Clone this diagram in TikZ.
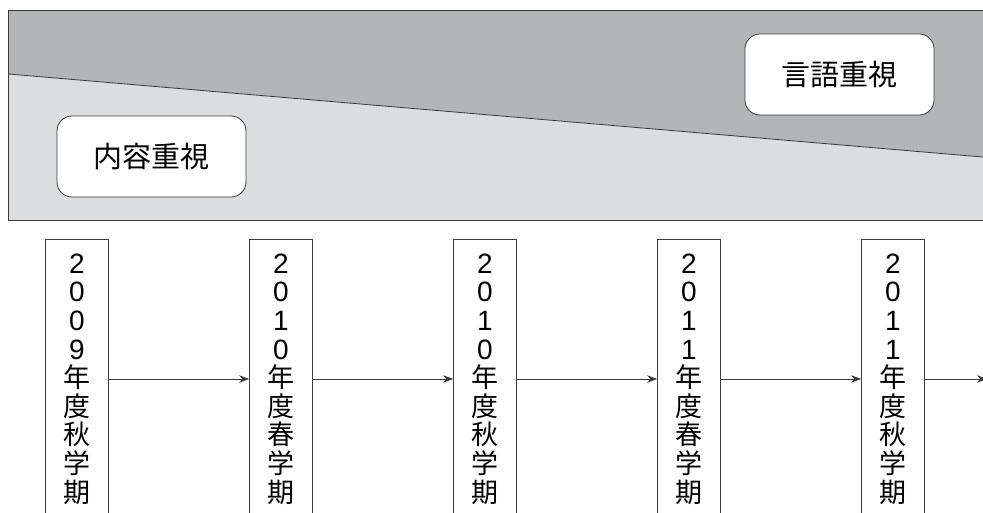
\documentclass[tikz,border=0pt]{standalone}
\usepackage{fontspec}
\newfontfamily\jp{Noto Sans CJK JP}
\newfontfamily\num{Liberation Sans}
\usetikzlibrary{arrows.meta}
\definecolor{bandDark}{HTML}{B4B5B6}
\definecolor{bandLight}{HTML}{DCDDDE}
\definecolor{edge}{HTML}{3A3A3A}
\tikzset{
  focus/.style={draw=edge,fill=white,rounded corners=15pt,line width=0.8pt,
    minimum width=189pt,minimum height=81pt,font=\jp\fontsize{29}{32}\selectfont},
  term/.style={draw=edge,fill=white,line width=0.8pt,minimum width=63pt,
    minimum height=280pt,align=center,inner sep=0pt,
    font=\jp\fontsize{27}{28.6}\selectfont},
  next/.style={draw=edge,line width=0.7pt,-{Stealth[length=10pt,width=7.5pt]}}
}
\newcommand\term[3]{\node(#1)[term] at (#2,379) {#3};}
\newcommand\dg[1]{{\num\fontsize{28}{28.6}\selectfont #1}}

\begin{document}
\begin{tikzpicture}[x=1pt,y=-1pt]
    \useasboundingbox (0,0) rectangle (983,513);
    \clip (0,0) rectangle (983,513);
    % band
    \fill[bandDark] (8.5,10) rectangle (1000,220.5);
    \fill[bandLight] (8.5,74) -- (1000,158.5) -- (1000,220.5) -- (8.5,220.5) -- cycle;
    \draw[edge,line width=0.8pt] (8.5,74) -- (1000,158.5);
    \draw[edge,line width=0.8pt] (1000,10) -- (8.5,10) -- (8.5,220.5) -- (1000,220.5);
    \node(content)[focus] at (151.5,156.5) {内容重視};
    \node(language)[focus] at (839.5,74.5) {言語重視};
    % terms
    \term{t1}{77}{\dg2\\\dg0\\\dg0\\\dg9\\年\\度\\秋\\学\\期}
    \term{t2}{281}{\dg2\\\dg0\\\dg1\\\dg0\\年\\度\\春\\学\\期}
    \term{t3}{485}{\dg2\\\dg0\\\dg1\\\dg0\\年\\度\\秋\\学\\期}
    \term{t4}{689}{\dg2\\\dg0\\\dg1\\\dg1\\年\\度\\春\\学\\期}
    \term{t5}{893}{\dg2\\\dg0\\\dg1\\\dg1\\年\\度\\秋\\学\\期}
    \coordinate (more) at (987,379);
    \draw[next] (t1) -- (t2);
    \draw[next] (t2) -- (t3);
    \draw[next] (t3) -- (t4);
    \draw[next] (t4) -- (t5);
    \draw[next] (t5) -- (more);
\end{tikzpicture}
\end{document}
